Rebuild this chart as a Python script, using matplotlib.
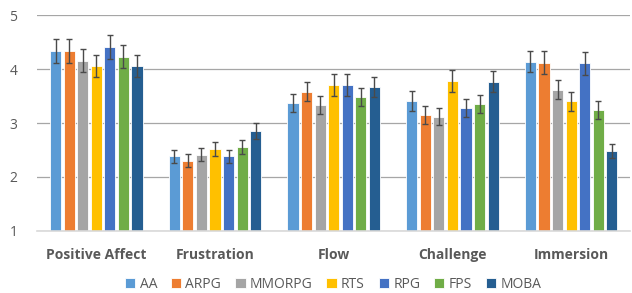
import matplotlib.pyplot as plt
import numpy as np

plt.rcParams['font.family'] = ['Open Sans', 'DejaVu Sans']

# Data
categories = ['Positive Affect', 'Frustration', 'Flow', 'Challenge', 'Immersion']
genres = ['AA', 'ARPG', 'MMORPG', 'RTS', 'RPG', 'FPS', 'MOBA']
colors = ['#5B9BD5', '#ED7D31', '#A5A5A5', '#FFC000', '#4472C4', '#70AD47', '#255E91']

means = {
    'AA':     [4.33, 2.38, 3.37, 3.41, 4.14],
    'ARPG':   [4.33, 2.30, 3.58, 3.15, 4.12],
    'MMORPG': [4.16, 2.41, 3.34, 3.12, 3.62],
    'RTS':    [4.06, 2.52, 3.71, 3.78, 3.40],
    'RPG':    [4.41, 2.38, 3.71, 3.28, 4.11],
    'FPS':    [4.23, 2.56, 3.48, 3.35, 3.24],
    'MOBA':   [4.06, 2.86, 3.67, 3.77, 2.49],
}
errors = {
    'AA':     [0.22, 0.12, 0.17, 0.18, 0.20],
    'ARPG':   [0.22, 0.12, 0.18, 0.16, 0.21],
    'MMORPG': [0.21, 0.12, 0.17, 0.16, 0.18],
    'RTS':    [0.21, 0.13, 0.20, 0.20, 0.17],
    'RPG':    [0.23, 0.12, 0.20, 0.17, 0.21],
    'FPS':    [0.21, 0.13, 0.17, 0.17, 0.17],
    'MOBA':   [0.20, 0.15, 0.19, 0.20, 0.13],
}

yticks = [1, 2, 3, 4, 5]

fig = plt.figure(figsize=(6.32, 2.93), dpi=100)
ax = fig.add_axes([0.0585, 0.212, 0.939, 0.736])

x = np.arange(len(categories))
group_w = 0.8
slot = group_w / len(genres)

for i, g in enumerate(genres):
    pos = x - group_w / 2 + slot * (i + 0.5)
    ax.bar(pos, np.array(means[g]) - 1, bottom=1, width=slot * 0.82,
           color=colors[i], edgecolor='white', linewidth=0.6, label=g, zorder=2)
    ax.errorbar(pos, means[g], yerr=errors[g], fmt='none', ecolor='#4a4a4a',
                elinewidth=1, capsize=2.5, capthick=1, zorder=3)

ax.set_ylim(1, 5)
ax.set_xlim(-0.5, len(categories) - 0.5)
ax.set_yticks(yticks)
ax.set_yticklabels([str(t) for t in yticks])
ax.yaxis.grid(True, color='#A6A6A6', linewidth=0.9, zorder=0)
ax.set_axisbelow(True)

for s in ['top', 'right', 'left']:
    ax.spines[s].set_visible(False)
ax.spines['bottom'].set_color('#D9D9D9')
ax.spines['bottom'].set_linewidth(1.2)

ax.set_xticks(x)
ax.set_xticklabels(categories, fontsize=10, fontweight='bold', color='#595959')
ax.tick_params(axis='x', length=0, pad=12)
ax.tick_params(axis='y', length=0, labelsize=10, labelcolor='#595959', pad=14)

fig.legend(loc='lower center', bbox_to_anchor=(0.527, -0.038), ncol=7, frameon=False,
           fontsize=10, handlelength=0.75, handleheight=0.75, handletextpad=0.3,
           columnspacing=1.0, labelcolor='#595959')

fig.savefig('out.png', dpi=100)
